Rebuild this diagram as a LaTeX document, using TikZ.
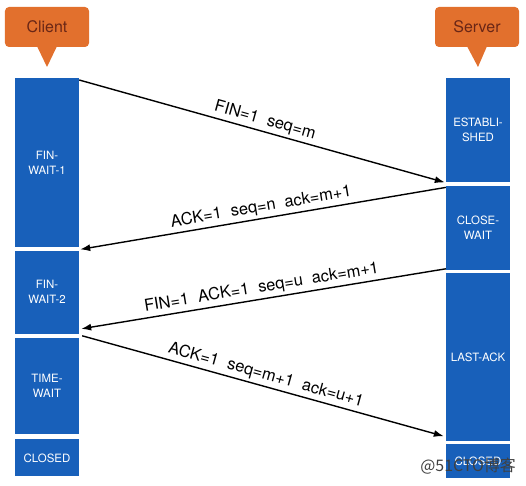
\documentclass[tikz,border=0pt]{standalone}
\usepackage{fontspec}
\setmainfont{TeX Gyre Heros}
\newfontfamily\cjkfont{Noto Sans CJK SC}
\usepackage{tikz}
\usetikzlibrary{arrows.meta,positioning}
\definecolor{statefill}{RGB}{24,96,186}
\definecolor{callfill}{RGB}{226,112,45}
\definecolor{calltext}{RGB}{105,38,22}

\begin{document}
\begin{tikzpicture}[
  x=1bp, y=-1bp,
  node distance=3bp,
  state/.style={fill=statefill, text=white, align=center, minimum width=64bp,
    inner sep=0pt, font=\fontsize{11.5}{15}\selectfont},
  callout/.style={fill=callfill, text=calltext, rounded corners=4bp,
    minimum width=84bp, minimum height=40bp, font=\fontsize{16}{18}\selectfont},
  msg/.style={-{Latex[length=10bp,width=7bp]}, line width=1.4bp},
  lbl/.style={above, sloped, inner sep=2.5bp, font=\fontsize{16.5}{19}\selectfont}
]
\useasboundingbox (0,0) rectangle (526,486);
% callouts
\node[callout] (client) at (47,27) {Client};
\node[callout] (server) at (477,27) {Server};
\coordinate (ctip) at (47,67);
\coordinate (stip) at (478,67);
\fill[callfill] ([xshift=-10bp,yshift=1bp]client.south) -- ([xshift=10bp,yshift=1bp]client.south) -- (ctip) -- cycle;
\fill[callfill] ([xshift=-10bp,yshift=1bp]server.south) -- ([xshift=10bp,yshift=1bp]server.south) -- (stip) -- cycle;
% client states
\node[state, minimum height=169bp, anchor=north] (fw1) at (47,78) {FIN-\\WAIT-1};
\node[state, minimum height=83bp, below=of fw1] (fw2) {FIN-\\WAIT-2};
\node[state, minimum height=96bp, below=4bp of fw2] (tw) {TIME-\\WAIT};
\node[state, minimum height=37bp, below=5bp of tw] (cc) {CLOSED};
% server states
\node[state, minimum height=104bp, anchor=north] (est) at (478,78) {ESTABLI-\\SHED};
\node[state, minimum height=84bp, below=of est] (cw) {CLOSE-\\WAIT};
\node[state, minimum height=168bp, below=of cw] (la) {LAST-ACK};
\node[state, minimum height=34bp, below=of la] (sc) {CLOSED};
% messages
\draw[msg] ([yshift=-2bp]fw1.north east) -- ([xshift=-1bp]est.south west)
  node[lbl, midway] {FIN=1~~seq=m};
\draw[msg] ([yshift=-2bp]cw.north west) -- ([xshift=1bp,yshift=-2bp]fw1.south east)
  node[lbl, midway] {ACK=1~~seq=n~~ack=m+1};
\draw[msg] ([yshift=1bp]cw.south west) -- ([xshift=2bp,yshift=5bp]fw2.south east)
  node[lbl, midway] {FIN=1~~ACK=1~~seq=u~~ack=m+1};
\draw[msg] ([xshift=3bp,yshift=2bp]tw.north east) -- ([xshift=-2bp,yshift=5bp]la.south west)
  node[lbl, midway] {ACK=1~~seq=m+1~~ack=u+1};
% watermark
\node[anchor=east, inner sep=0pt, text=black!75, font=\cjkfont\fontsize{16}{18}\selectfont] (wm) at (516,466) {@51CTO博客};
\end{tikzpicture}
\end{document}
